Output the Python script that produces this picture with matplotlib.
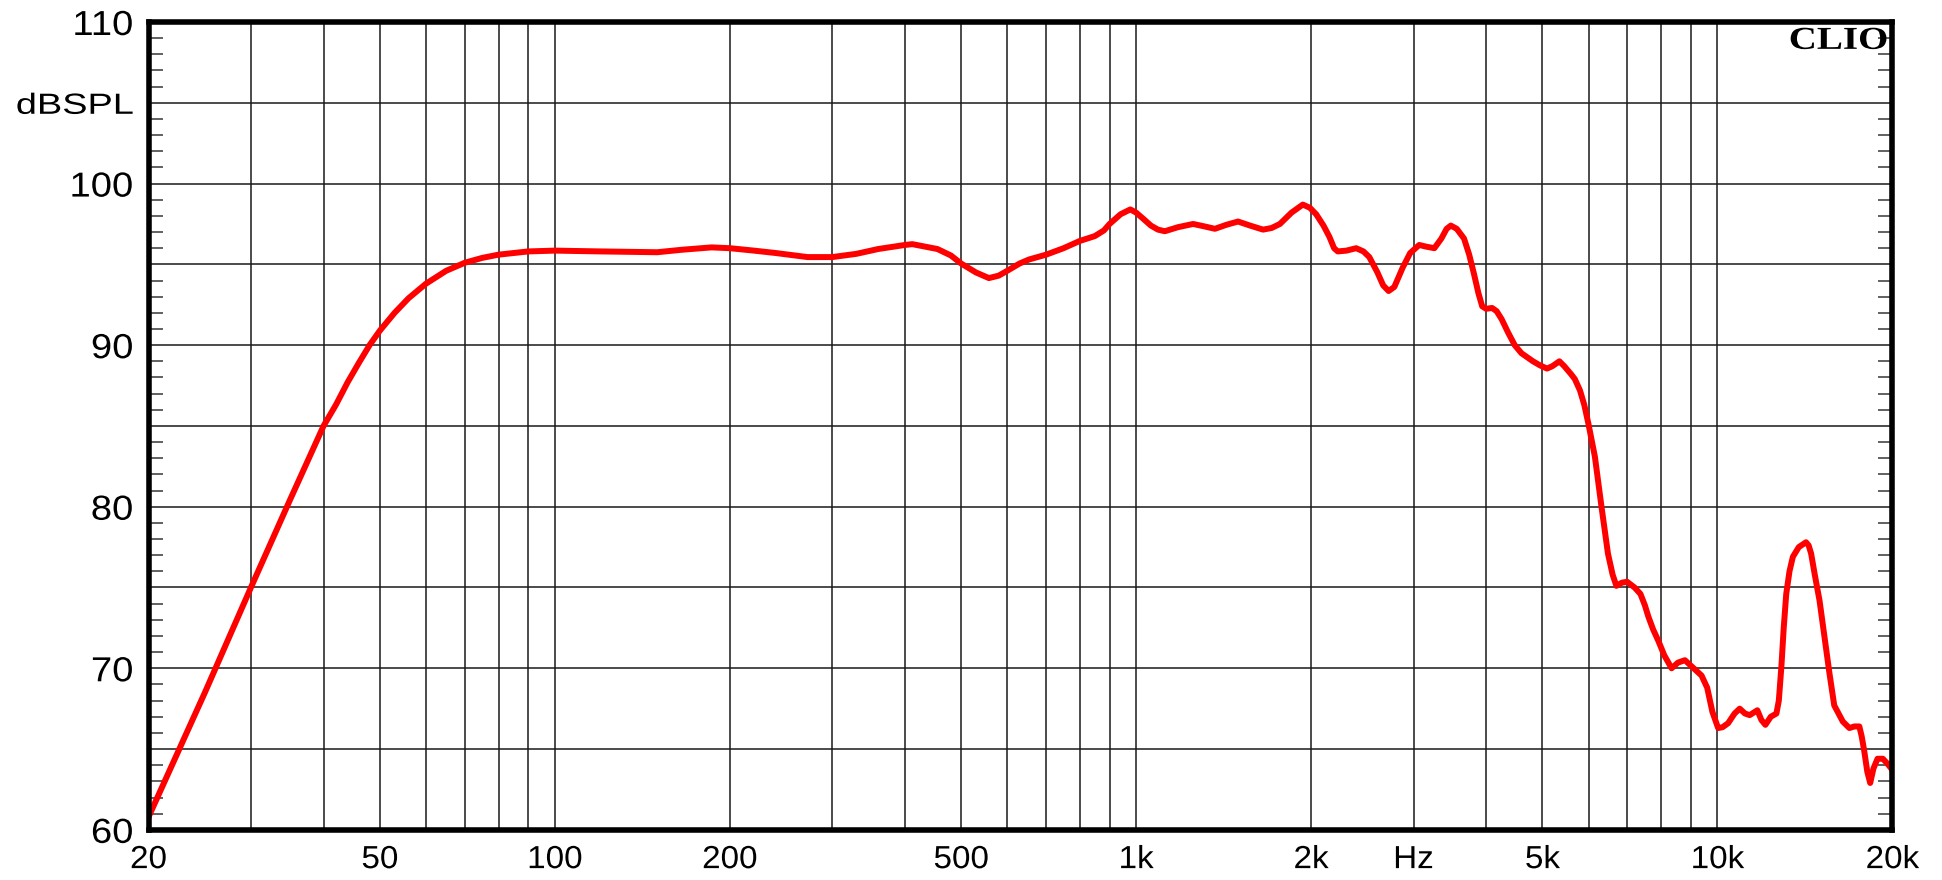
import numpy as np
import matplotlib
matplotlib.use("Agg")
import matplotlib.pyplot as plt
from matplotlib.ticker import FixedLocator, NullFormatter, NullLocator
from matplotlib.patheffects import AbstractPathEffect
from matplotlib.transforms import Affine2D

# frequency response (Hz, dB SPL)
freq = [20, 25, 30, 35, 40, 42, 44, 46, 48, 50, 53, 56, 60, 65, 70, 75, 80, 90, 100,
        120, 150, 165, 186, 200, 220, 240, 272, 300, 330, 360, 400, 412, 455, 480, 500,
        530, 558, 580, 600, 630, 654, 700, 750, 800, 849, 880, 900, 940, 977, 1000,
        1030, 1060, 1090, 1120, 1180, 1253, 1310, 1366, 1430, 1497, 1570, 1653, 1710,
        1767, 1850, 1935, 1990, 2040, 2100, 2150, 2190, 2222, 2300, 2390, 2460, 2518,
        2600, 2660, 2718, 2780, 2874, 2960, 3068, 3150, 3258, 3350, 3420, 3477, 3560,
        3664, 3740, 3812, 3880, 3938, 4000, 4095, 4170, 4254, 4360, 4479, 4600, 4815,
        4950, 5090, 5200, 5346, 5450, 5600, 5683, 5800, 5900, 6000, 6153, 6316, 6480,
        6600, 6700, 6850, 6993, 7200, 7370, 7500, 7604, 7750, 7911, 8100, 8338, 8550,
        8790, 9100, 9388, 9600, 9800, 10026, 10200, 10430, 10700, 10920, 11150, 11360,
        11710, 11900, 12090, 12350, 12630, 12750, 12880, 13000, 13130, 13300, 13480,
        13800, 14200, 14350, 14490, 14700, 14980, 15300, 15580, 15880, 16100, 16430,
        16860, 17200, 17540, 17700, 17880, 18100, 18310, 18550, 18850, 19250, 19600, 20000]
spl = [60.8, 68.5, 75.0, 80.4, 85.0, 86.3, 87.7, 88.9, 90.0, 90.9, 92.0, 92.9, 93.8, 94.6, 95.1, 95.4, 95.6, 95.8, 95.85,
       95.8, 95.75, 95.9, 96.05, 96.0, 95.85, 95.7, 95.45, 95.45, 95.65, 95.95, 96.2, 96.25, 95.95, 95.55, 95.05,
       94.5, 94.15, 94.3, 94.6, 95.05, 95.3, 95.6, 96.0, 96.45, 96.75, 97.1, 97.5, 98.1, 98.4, 98.2,
       97.8, 97.4, 97.15, 97.05, 97.3, 97.5, 97.35, 97.2, 97.45, 97.65, 97.4, 97.15, 97.25,
       97.5, 98.2, 98.7, 98.5, 98.1, 97.4, 96.7, 96.0, 95.8, 95.85, 96.0, 95.8, 95.45,
       94.5, 93.7, 93.35, 93.6, 94.8, 95.7, 96.2, 96.1, 96.0, 96.6, 97.2, 97.4, 97.2,
       96.6, 95.6, 94.4, 93.2, 92.4, 92.25, 92.3, 92.1, 91.6, 90.8, 90.0, 89.5, 89.0,
       88.75, 88.55, 88.7, 89.0, 88.7, 88.2, 87.9, 87.2, 86.3, 85.1, 83.1, 80.0, 77.1,
       75.8, 75.1, 75.3, 75.35, 75.0, 74.6, 73.9, 73.2, 72.4, 71.7, 70.8, 70.0, 70.35,
       70.5, 70.0, 69.55, 68.8, 67.3, 66.3, 66.35, 66.6, 67.2, 67.5, 67.2, 67.1,
       67.4, 66.8, 66.5, 67.0, 67.2, 68.0, 70.1, 72.5, 74.6, 76.0, 76.9,
       77.5, 77.8, 77.6, 77.1, 75.8, 74.2, 71.8, 69.7, 67.7, 67.3, 66.7,
       66.3, 66.4, 66.4, 65.8, 64.9, 63.6, 62.9, 63.8, 64.4, 64.4, 64.1, 63.7]

grid_f = [30, 40, 50, 60, 70, 80, 90, 100, 200, 300, 400, 500, 600, 700, 800, 900,
          1000, 2000, 3000, 4000, 5000, 6000, 7000, 8000, 9000, 10000]
xtick_pos = [20, 50, 100, 200, 500, 1000, 2000, 3000, 5000, 10000, 20000]
xtick_lab = ["20", "50", "100", "200", "500", "1k", "2k", "Hz", "5k", "10k", "20k"]
ytick_pos = [60, 70, 80, 90, 100, 105, 110]
ytick_lab = ["60", "70", "80", "90", "100", "dBSPL", "110"]


class Stretch(AbstractPathEffect):
    """widen glyphs horizontally (the CLIO fonts are wide)"""
    def __init__(self, sx, anchor='center'):
        super().__init__()
        self.sx = sx
        self.anchor = anchor

    def draw_path(self, renderer, gc, tpath, affine, rgbFace=None):
        ext = tpath.get_extents()
        if self.anchor == 'right':
            cx = ext.x1
        elif self.anchor == 'left':
            cx = ext.x0
        else:
            cx = 0.5 * (ext.x0 + ext.x1)
        tr = Affine2D().translate(-cx, 0).scale(self.sx, 1).translate(cx, 0) + affine
        renderer.draw_path(gc, tpath, tr, rgbFace)


plt.rcParams['font.family'] = ['Liberation Sans', 'DejaVu Sans']

fig = plt.figure(figsize=(19.42, 8.80), dpi=100)
ax = fig.add_axes([0.0765, 0.057, 0.898, 0.918])
ax.set_xscale('log')
ax.set_xlim(20, 20000)
ax.set_ylim(60, 110)

# grid
for f in grid_f:
    ax.axvline(f, color='#1a1a1a', lw=1.1, zorder=1)
for y in range(65, 110, 5):
    ax.axhline(y, color='#1a1a1a', lw=1.1, zorder=1)

ax.plot(freq, spl, color='#ff0000', lw=4.3, solid_joinstyle='round',
        solid_capstyle='round', zorder=3)

ax.xaxis.set_major_locator(FixedLocator(xtick_pos))
ax.set_xticklabels(xtick_lab, fontsize=23)
ax.xaxis.set_minor_locator(NullLocator())
ax.tick_params(axis='x', which='both', length=0, pad=11)
for lab in ax.get_xticklabels():
    lab.set_path_effects([Stretch(1.04, 'center')])

ax.yaxis.set_major_locator(FixedLocator(ytick_pos))
ax.set_yticklabels(ytick_lab, fontsize=25)
for lab in ax.get_yticklabels():
    if lab.get_text() == "dBSPL":
        lab.set_fontsize(21)
        lab.set_path_effects([Stretch(1.3, 'right')])
    else:
        lab.set_path_effects([Stretch(1.1, 'right')])
ax.yaxis.set_minor_locator(FixedLocator([v for v in range(61, 110) if v % 5 != 0]))
ax.yaxis.set_minor_formatter(NullFormatter())
ax.tick_params(axis='y', which='major', length=0, pad=11)
ax.tick_params(axis='y', which='minor', direction='in', length=10, width=1.3,
               color='#555555', left=True, right=True)

for s in ax.spines.values():
    s.set_linewidth(4)
    s.set_color('black')
    s.set_zorder(5)

clio = ax.text(0.9975, 0.994, "CLIO", transform=ax.transAxes, ha='right', va='top',
               fontsize=23, fontweight='bold', family=['Liberation Serif', 'DejaVu Serif'], zorder=6)
clio.set_path_effects([Stretch(1.22, 'right')])

fig.savefig("out.png", dpi=100)
